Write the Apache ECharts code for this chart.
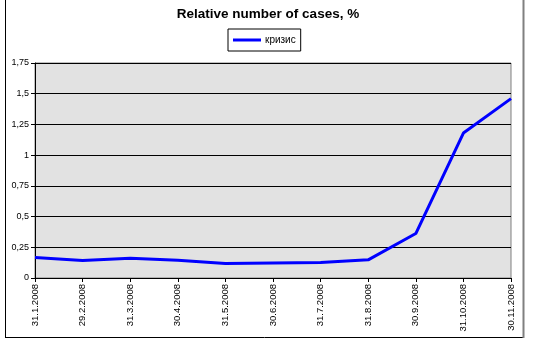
<!DOCTYPE html>
<html>
<head>
<meta charset="utf-8">
<script src="https://cdn.jsdelivr.net/npm/echarts@6/dist/echarts.min.js"></script>
<style>
html,body{margin:0;padding:0;background:#fff;}
#chart{width:540px;height:344px;}
</style>
</head>
<body>
<div id="chart"></div>
<script>
var categories = ['31.1.2008','29.2.2008','31.3.2008','30.4.2008','31.5.2008','30.6.2008','31.7.2008','31.8.2008','30.9.2008','31.10.2008','30.11.2008'];
var crisisValues = [0.166, 0.143, 0.160, 0.144, 0.119, 0.123, 0.126, 0.148, 0.362, 1.18, 1.46];
var seriesName = 'кризис';
var titleText = 'Relative number of cases, %';

var FONT = 'Liberation Sans, Arial, sans-serif';
var chart = echarts.init(document.getElementById('chart'), null, {renderer: 'canvas'});
chart.setOption({
  animation: false,
  backgroundColor: '#ffffff',
  title: {
    text: titleText,
    left: 263,
    textAlign: 'center',
    top: 2,
    textStyle: {fontFamily: FONT, fontSize: 13.5, fontWeight: 'bold', color: '#000'}
  },
  legend: {
    data: [seriesName],
    left: 228,
    top: 29,
    orient: 'horizontal',
    backgroundColor: '#ffffff',
    borderColor: '#000000',
    borderWidth: 1,
    borderRadius: 0,
    padding: [6, 5, 6, 5],
    itemWidth: 28,
    itemHeight: 3,
    itemGap: 4,
    icon: 'rect',
    textStyle: {fontFamily: FONT, fontSize: 10, color: '#000', padding: [0, 0, 0, -1]}
  },
  grid: {
    left: 35, right: 29, top: 63, bottom: 66,
    show: true,
    backgroundColor: '#e2e2e2',
    borderColor: '#808080',
    borderWidth: 1
  },
  xAxis: {
    type: 'category',
    data: categories,
    boundaryGap: false,
    axisLine: {show: true, lineStyle: {color: '#000', width: 1}},
    axisTick: {show: true, length: 4, lineStyle: {color: '#000'}},
    axisLabel: {rotate: 90, fontFamily: FONT, fontSize: 9.5, color: '#000', margin: 6, interval: 0},
    splitLine: {show: false}
  },
  yAxis: {
    type: 'value',
    min: 0, max: 1.75, interval: 0.25,
    axisLine: {show: true, lineStyle: {color: '#000', width: 1}},
    axisTick: {show: true, length: 4, lineStyle: {color: '#000'}},
    axisLabel: {
      fontFamily: FONT, fontSize: 9, color: '#000', margin: 6,
      formatter: function (v) { return String(+v.toFixed(2)).replace('.', ','); }
    },
    splitLine: {show: true, lineStyle: {color: '#000', width: 1}}
  },
  series: [{
    name: seriesName,
    type: 'line',
    data: crisisValues,
    showSymbol: false,
    symbol: 'none',
    lineStyle: {color: '#0000ff', width: 3},
    itemStyle: {color: '#0000ff'}
  }],
  graphic: [
    {type: 'line', shape: {x1: 5.5, y1: 0, x2: 5.5, y2: 337.5}, style: {stroke: '#000', lineWidth: 1}},
    {type: 'line', shape: {x1: 5, y1: 337.5, x2: 524, y2: 337.5}, style: {stroke: '#000', lineWidth: 1}},
    {type: 'line', shape: {x1: 523.5, y1: 0, x2: 523.5, y2: 338}, style: {stroke: '#808080', lineWidth: 2}}
  ]
});
</script>
</body>
</html>
